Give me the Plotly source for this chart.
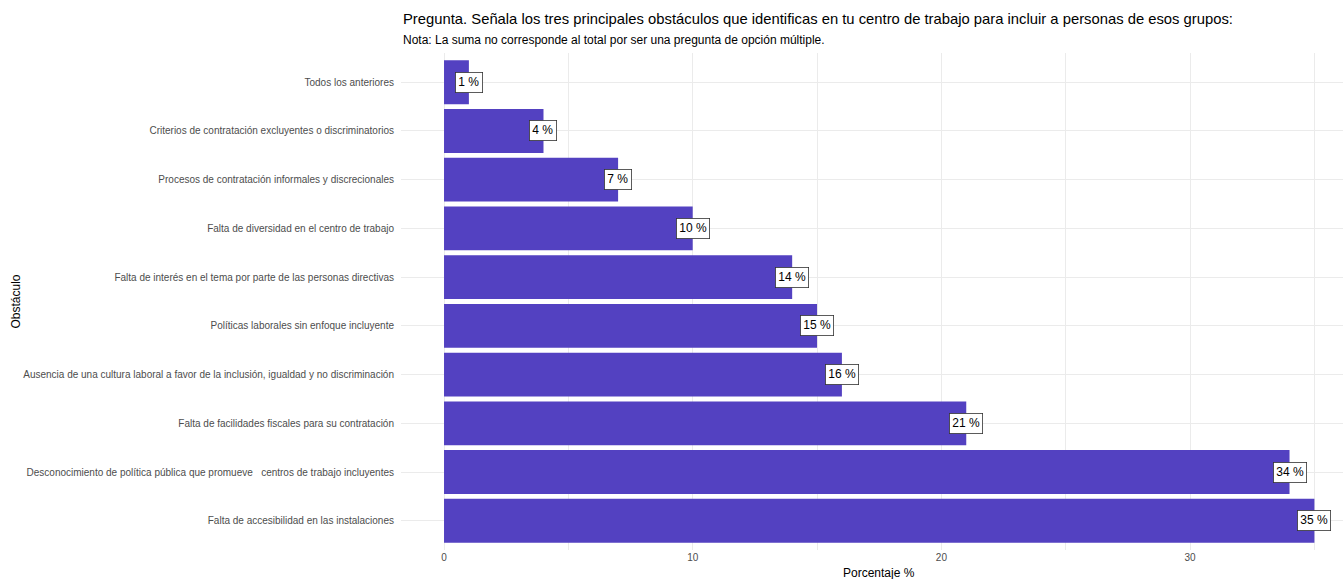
import plotly.graph_objects as go

# Obstacles, listed top to bottom, with their share of responses (%)
obstaculos = [
    "Todos los anteriores",
    "Criterios de contratación excluyentes o discriminatorios",
    "Procesos de contratación informales y discrecionales",
    "Falta de diversidad en el centro de trabajo",
    "Falta de interés en el tema por parte de las personas directivas",
    "Políticas laborales sin enfoque incluyente",
    "Ausencia de una cultura laboral a favor de la inclusión, igualdad y no discriminación",
    "Falta de facilidades fiscales para su contratación",
    "Desconocimiento de política pública que promueve\u00a0\u00a0 centros de trabajo incluyentes",
    "Falta de accesibilidad en las instalaciones",
]
porcentajes = [1, 4, 7, 10, 14, 15, 16, 21, 34, 35]
x_ticks = [0, 10, 20, 30]

titulo = ("Pregunta. Señala los tres principales obstáculos que identificas en tu "
          "centro de trabajo para incluir a personas de esos grupos:")
nota = "Nota: La suma no corresponde al total por ser una pregunta de opción múltiple."

BAR = "#5341C1"
GRID = "#ebebeb"
FONT = "Liberation Sans, Arial, sans-serif"

fig = go.Figure(
    go.Bar(
        x=porcentajes,
        y=obstaculos,
        orientation="h",
        marker=dict(color=BAR, line=dict(width=0)),
        width=0.9,
        hoverinfo="x+y",
    )
)

# value labels sitting on the end of each bar
for cat, val in zip(obstaculos, porcentajes):
    fig.add_annotation(
        x=val, y=cat, xref="x", yref="y",
        text=f"{val} %", showarrow=False,
        xanchor="center", yanchor="middle",
        font=dict(family=FONT, size=12, color="#000000"),
        bgcolor="#ffffff", bordercolor="#333333", borderwidth=0.8, borderpad=2.5,
    )

# axis titles
fig.add_annotation(
    x=17.5, y=0, xref="x", yref="paper", yshift=-14,
    text="Porcentaje %", showarrow=False, xanchor="center", yanchor="top",
    font=dict(family=FONT, size=12, color="#000000"),
)
fig.add_annotation(
    x=0, y=0.5, xref="paper", yref="paper", xshift=-386,
    text="Obstáculo", showarrow=False, textangle=-90,
    xanchor="center", yanchor="middle",
    font=dict(family=FONT, size=12, color="#000000"),
)

# title and note
fig.add_annotation(
    x=0, y=1, xref="paper", yref="paper", yshift=24,
    text=titulo, showarrow=False, xanchor="left", yanchor="bottom",
    font=dict(family=FONT, size=14.8, color="#000000"),
)
fig.add_annotation(
    x=0, y=1, xref="paper", yref="paper", yshift=4,
    text=nota, showarrow=False, xanchor="left", yanchor="bottom",
    font=dict(family=FONT, size=12, color="#000000"),
)

fig.update_layout(
    width=1343, height=579,
    margin=dict(l=401, r=0, t=53, b=29),
    paper_bgcolor="#ffffff", plot_bgcolor="#ffffff",
    showlegend=False,
    bargap=0.1,
    font=dict(family=FONT),
)
fig.update_xaxes(
    range=[-1.73, 36.15],
    tickvals=x_ticks, ticktext=[str(v) for v in x_ticks],
    showgrid=True, gridcolor=GRID, gridwidth=1.1,
    minor=dict(tick0=5, dtick=10, showgrid=True, gridcolor=GRID, gridwidth=0.6),
    zeroline=False, showline=False, ticks="",
    tickfont=dict(family=FONT, size=10, color="#4d4d4d"),
    fixedrange=True,
)
fig.update_yaxes(
    categoryorder="array", categoryarray=obstaculos,
    range=[9.6, -0.6],
    showgrid=True, gridcolor=GRID, gridwidth=1.1,
    zeroline=False, showline=False, ticks="",
    ticklabelstandoff=6,
    tickfont=dict(family=FONT, size=10, color="#4d4d4d"),
    fixedrange=True,
)

fig.write_html("out.html")
